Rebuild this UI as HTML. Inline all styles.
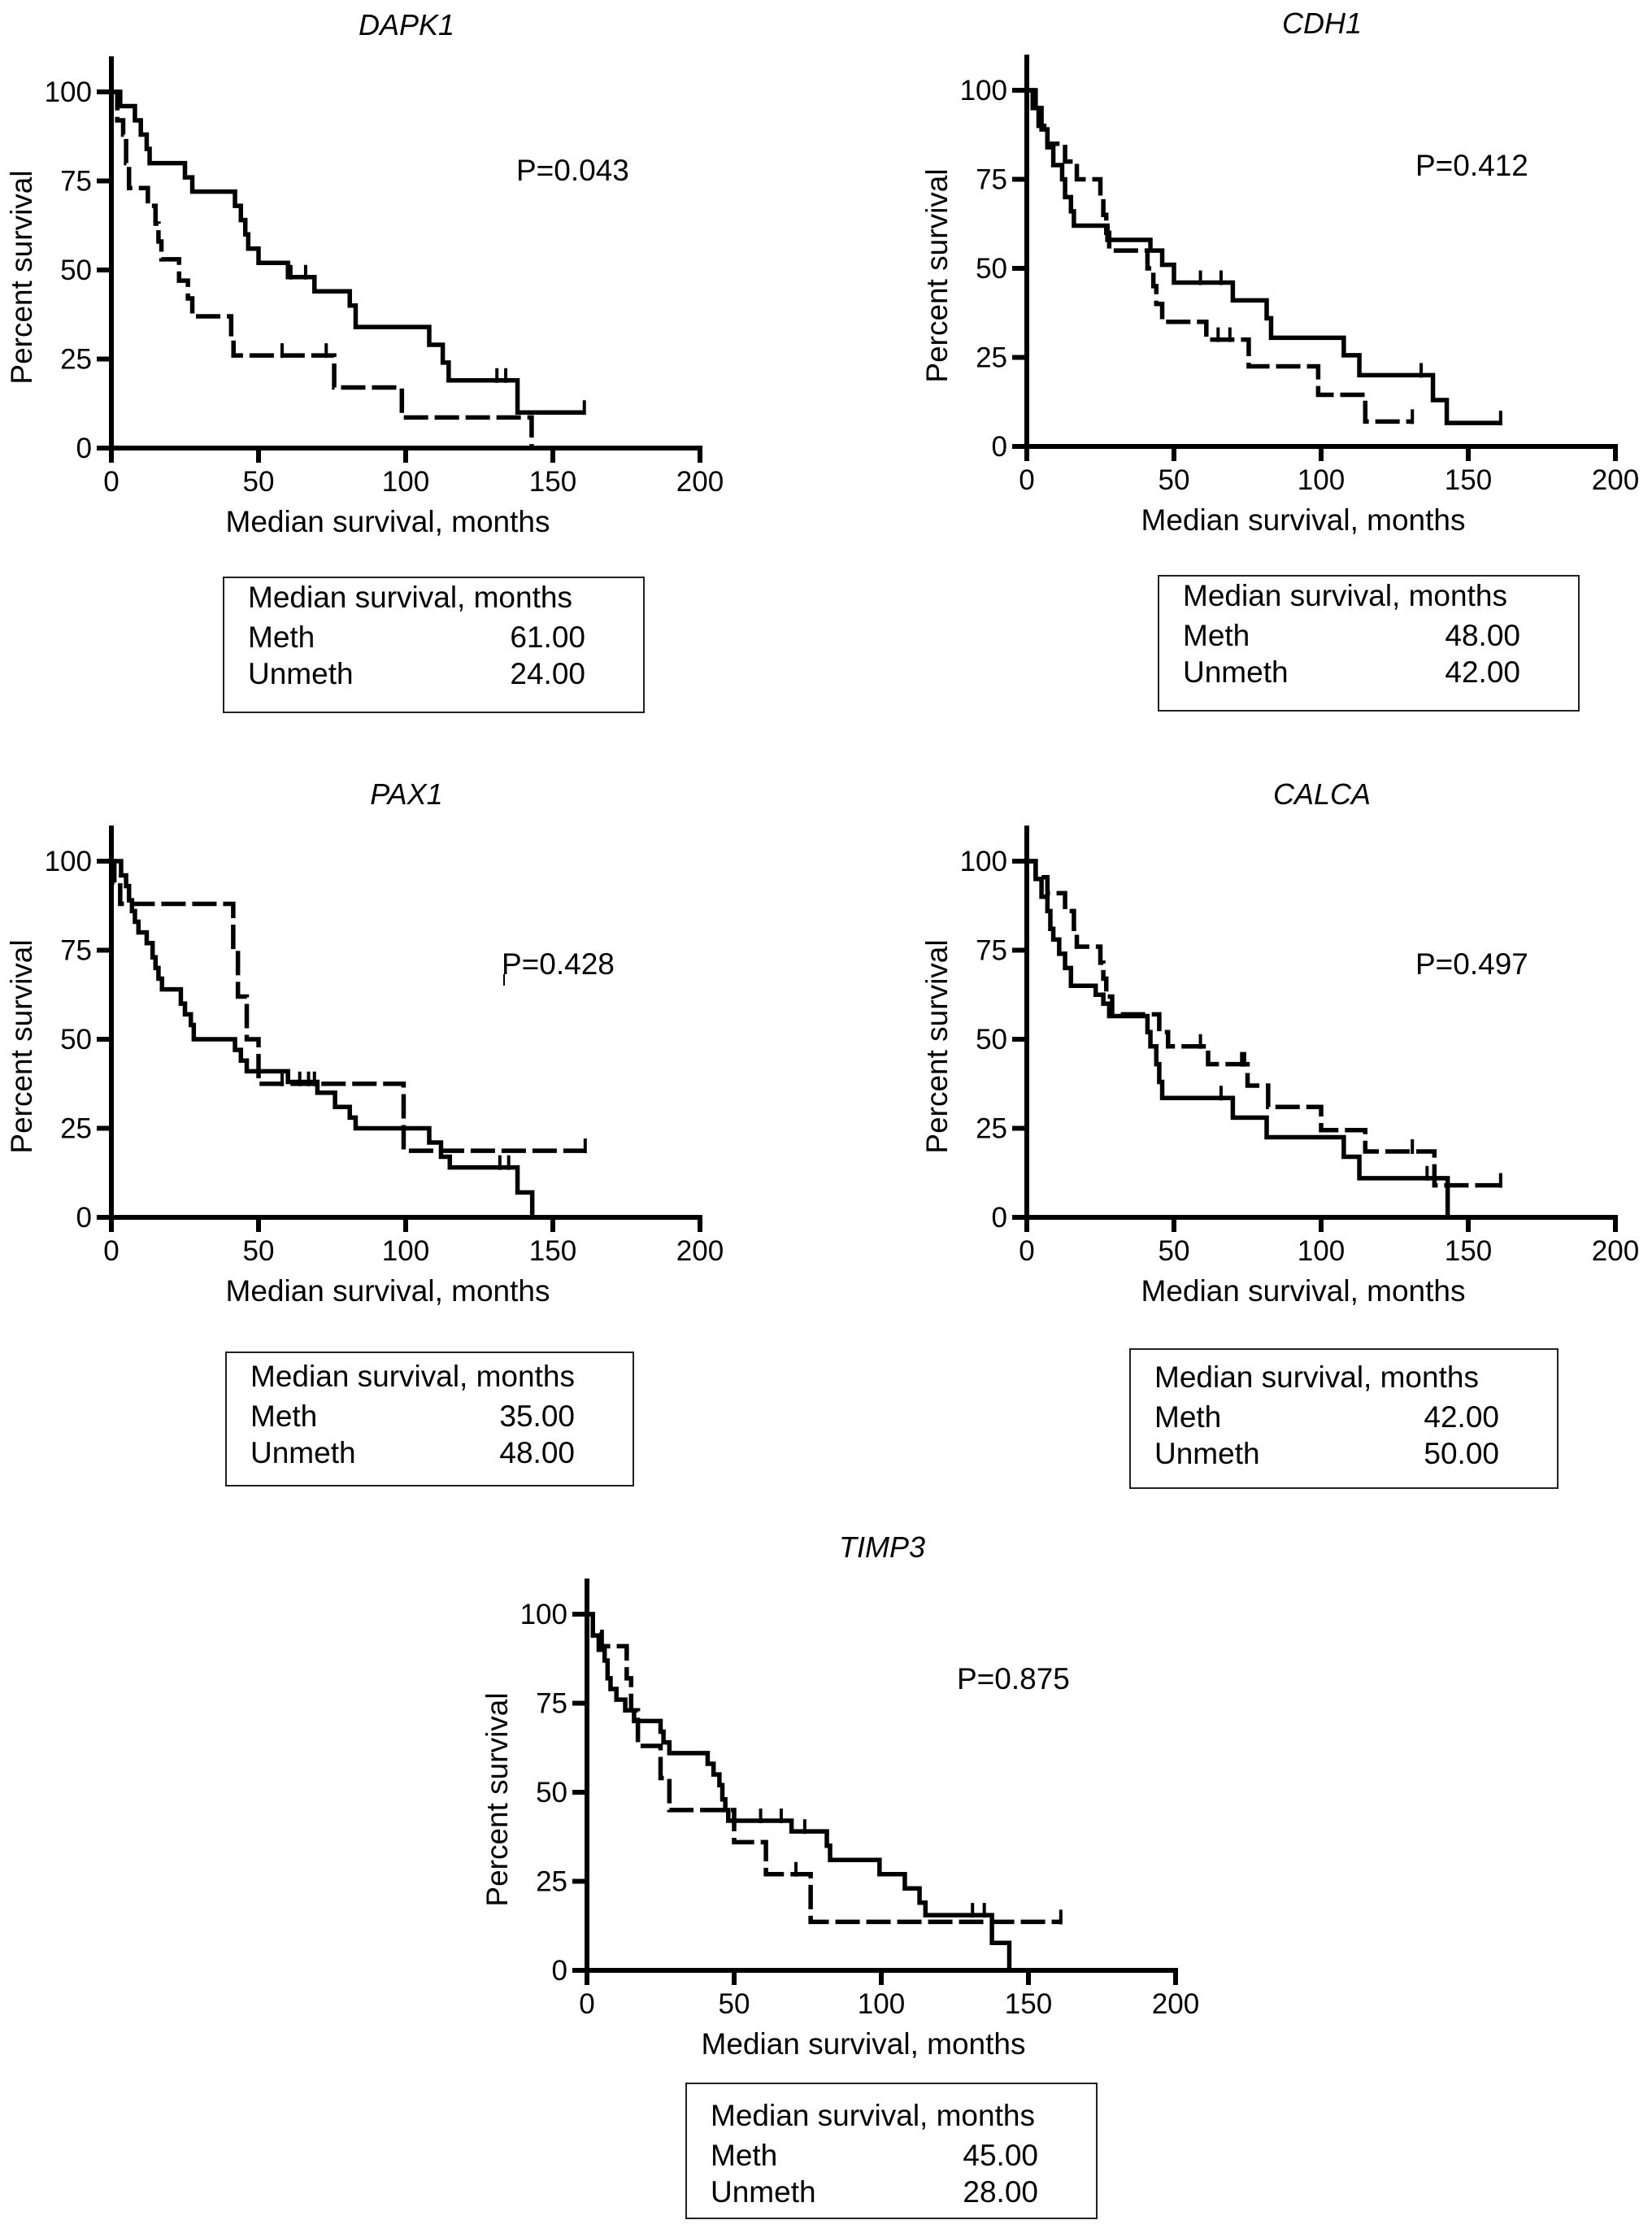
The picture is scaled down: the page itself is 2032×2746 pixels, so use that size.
<!DOCTYPE html>
<html><head><meta charset="utf-8">
<style>
html,body{margin:0;padding:0;background:#fff;}
svg{display:block;font-family:"Liberation Sans",Arial,sans-serif;}
</style></head>
<body>
<svg id="fig" width="2032" height="2746" viewBox="0 0 2032 2746" xmlns="http://www.w3.org/2000/svg"></svg>
<script>
// ---- data ----
const xTicks = [0, 50, 100, 150, 200];
const yTicks = [0, 25, 50, 75, 100];
const genes = ["DAPK1", "CDH1", "PAX1", "CALCA", "TIMP3"];
const pValues = ["P=0.043", "P=0.412", "P=0.428", "P=0.497", "P=0.875"];
const methMedian = ["61.00", "48.00", "35.00", "42.00", "45.00"];
const unmethMedian = ["24.00", "42.00", "48.00", "50.00", "28.00"];

const methTimes = [
  [0,3,8,10,12,13,25,27.5,42,44,45.5,46.5,50,60,69,81,83,108,112.6,114.6,138],
  [0,3,5,7,9,12,13,15,16,27.4,42,46,50,70,81.5,83,107.7,113,138,142.7],
  [0,3.3,5,6,7,8,9.2,12,14,15,16,17.2,23.6,25,27,28,42,44,46,60,70,76,81,83,108,112,115,138,143],
  [0,3,5,7,8,9,11,13,15,23.4,26,28,41,42,44,45,46,70,81.5,107.7,113,143],
  [0,2,4,6,7,8,10,13,16,25,26,28,41,43,45,46,47,48,69.5,81.5,82.6,99.4,108,113,115,137.6,143.5]
];
const methSurv = [
  [100,96,92,88,84,80,76,72,68,64,60,56,52,48,44,40,34,29,24,19,10],
  [100,95,89,84,79,75,70,66,62,58,55,51,46,41,36,30.5,25.6,20,13,6.6],
  [100,96,93,89,86,83,80,77,73,70,67,64,60,57,54,50,47,44,41,38,35,31,28,25,21,17,14,7,0],
  [100,95,90,86,81,78,74,70,65,62.5,60,56.5,52,48,43,38,33.5,28,22.5,17,11,0],
  [100,94,90,87,82,79,76,73,70,67,64,61,58,55,52,48,45,42,39,35,31,27,23,19,15.5,7.7,0]
];
const methEnd = [160.7, 161, 143, 143, 143.5];
const methCensor = [[61,66,131,134,160.7],[59,66,134,161],[132,135],[66,136],[59,66,74,131,135]];

const unmethTimes = [
  [0,2,4,5,6,12.4,15,16,17,23,26,27.5,40.7,41.5,75.7,98.7,142.8],
  [0,2,4,7,13,17,25,26,27,28,41,43,44,46,61,75.4,99,115],
  [0,1,3,41.4,43,46,50,99.3],
  [0,3,7,13,16,17,25,26,27,29,45,48,61.6,75,82,100,115,138.5],
  [0,2,5,13.5,15,17.3,25,28,50,60.8,76]
];
const unmethSurv = [
  [100,92,88,80,73,68,63,58,53,47,42,37,32,26,17,8.6,0],
  [100,95,90,85,80,75,70,65,60,55,50,45,40,35,30,22.5,14.5,7],
  [100,94,88,75,62,50,37.5,18.7],
  [100,95.5,91,86,81,76,71.5,67,62,57,52,48,43,37,31,24.5,18.5,9],
  [100,95,91,82,73,63,54,45,36,27,13.6]
];
const unmethEnd = [142.8, 131, 161, 161, 161];
const unmethCensor = [[58,73],[65,69,131],[58,64,67,69,161],[59,73,74,131,161],[71,161]];

// ---- layout ----
const layout = [
  {ox:137, y0:551, px:498, py:-329, bx:138, by:159, bw:517, bh:166, tb:37},
  {ox:1263, y0:549, px:478, py:-333, bx:162, by:159, bw:517, bh:166, tb:37},
  {ox:137, y0:1497, px:480, py:-299, bx:141, by:166, bw:501, bh:164, tb:42},
  {ox:1263, y0:1497, px:478, py:-299, bx:127, by:162, bw:526, bh:171, tb:47},
  {ox:722, y0:2423, px:455, py:-346, bx:122, by:139, bw:505, bh:166, tb:52}
];
const W = 724, H = 438;
const NS = "http://www.w3.org/2000/svg";
const svg = document.getElementById('fig');

function mk(tag, attrs, parent, text) {
  const e = document.createElementNS(NS, tag);
  for (const k in attrs) e.setAttribute(k, attrs[k]);
  if (text !== undefined) e.textContent = text;
  parent.appendChild(e);
  return e;
}
function survAt(times, surv, t) {
  let v = surv[0];
  for (let i = 0; i < times.length; i++) if (times[i] <= t) v = surv[i];
  return v;
}

layout.forEach((L, i) => {
  const xs = m => L.ox + m / 200 * W;
  const ys = p => L.y0 - p / 100 * H;
  const g = mk('g', {}, svg);
  
  

  const title = mk('text', {x: L.ox + 363, y: L.y0 - 508, 'font-size': 36, 'font-style': 'italic', 'text-anchor': 'middle'}, g, genes[i]);
  
  

  // axes
  const ya = mk('line', {x1: L.ox, y1: ys(110), x2: L.ox, y2: L.y0 + 3, stroke: '#000', 'stroke-width': 6}, g);
  
  
  const xa = mk('line', {x1: L.ox - 18, y1: L.y0, x2: L.ox + W + 3, y2: L.y0, stroke: '#000', 'stroke-width': 6}, g);
  
  

  yTicks.forEach(v => {
    mk('line', {x1: L.ox - 18, y1: ys(v), x2: L.ox, y2: ys(v), stroke: '#000', 'stroke-width': 6}, g);
    const t = mk('text', {x: L.ox - 24, y: ys(v) + 12, 'font-size': 35, 'text-anchor': 'end'}, g, String(v));
    
    
  });
  xTicks.forEach(v => {
    mk('line', {x1: xs(v), y1: L.y0, x2: xs(v), y2: L.y0 + 18, stroke: '#000', 'stroke-width': 6}, g);
    const t = mk('text', {x: xs(v), y: L.y0 + 53, 'font-size': 35, 'text-anchor': 'middle'}, g, String(v));
    
    
  });
  const xt = mk('text', {x: L.ox + 340, y: L.y0 + 103, 'font-size': 37, 'text-anchor': 'middle'}, g, 'Median survival, months');
  
  
  const yt = mk('text', {x: 0, y: 0, 'font-size': 37, 'text-anchor': 'middle', transform: 'translate(' + (L.ox - 98) + ',' + (L.y0 - 210) + ') rotate(-90)'}, g, 'Percent survival');
  
  

  const pt = mk('text', {x: L.ox + L.px, y: L.y0 + L.py, 'font-size': 37}, g, pValues[i]);
  
  
  if (i === 2) mk('line', {x1: L.ox + L.px + 3, y1: L.y0 + L.py, x2: L.ox + L.px + 3, y2: L.y0 + L.py + 14, stroke: '#000', 'stroke-width': 2}, g);

  // curves
  function curve(times, surv, end, censor, dashed, name) {
    let d = 'M' + xs(times[0]) + ',' + ys(surv[0]);
    for (let k = 1; k < times.length; k++) {
      d += ' H' + xs(times[k]) + ' V' + ys(surv[k]);
    }
    d += ' H' + xs(end);
    const p = mk('path', {d: d, fill: 'none', stroke: '#000', 'stroke-width': 5.5, 'stroke-linejoin': 'miter'}, g);
    if (dashed) p.setAttribute('stroke-dasharray', '30 8');
    
    
    censor.forEach(c => {
      const v = survAt(times, surv, c);
      const cl = mk('line', {x1: xs(c), y1: ys(v) - 15, x2: xs(c), y2: ys(v) + 3, stroke: '#000', 'stroke-width': 4}, g);
      
      
    });
  }
  curve(methTimes[i], methSurv[i], methEnd[i], methCensor[i], false, 'meth-curve');
  curve(unmethTimes[i], unmethSurv[i], unmethEnd[i], unmethCensor[i], true, 'unmeth-curve');

  // legend box
  const bx = L.ox + L.bx, by = L.y0 + L.by;
  const box = mk('rect', {x: bx, y: by, width: L.bw, height: L.bh, fill: 'none', stroke: '#222', 'stroke-width': 2}, g);
  
  
  const l1 = mk('text', {x: bx + 30, y: by + L.tb, 'font-size': 37}, g, 'Median survival, months');
  
  
  const l2 = mk('text', {x: bx + 30, y: by + L.tb + 49, 'font-size': 37}, g, 'Meth');
  
  
  const v2 = mk('text', {x: bx + L.bw - 72, y: by + L.tb + 49, 'font-size': 37, 'text-anchor': 'end'}, g, methMedian[i]);
  
  
  const l3 = mk('text', {x: bx + 30, y: by + L.tb + 94, 'font-size': 37}, g, 'Unmeth');
  
  
  const v3 = mk('text', {x: bx + L.bw - 72, y: by + L.tb + 94, 'font-size': 37, 'text-anchor': 'end'}, g, unmethMedian[i]);
  
  
});
</script>
</body></html>
